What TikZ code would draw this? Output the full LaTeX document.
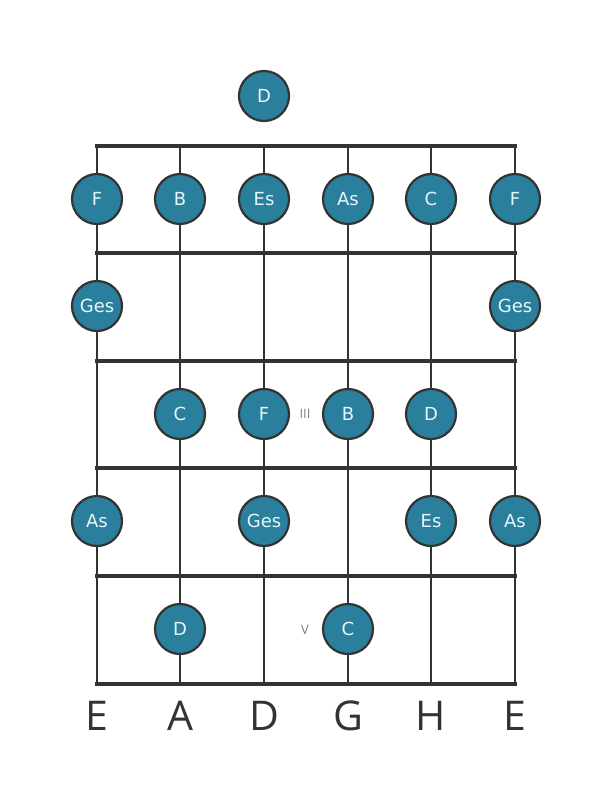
\documentclass[tikz,border=0pt]{standalone}
\usepackage{fontspec}
\setmainfont{Open Sans}
\newfontfamily\notefont{DejaVu Sans}
\begin{document}
\begin{tikzpicture}[x=1pt,y=-1pt,
  note/.style={circle,draw=black!80,line width=2.2pt,fill=notecol,minimum size=50pt,inner sep=0pt,text=notetext,font=\notefont\fontsize{18}{18}\selectfont},
  fret/.style={line width=4.5pt,draw=black!80},
  string/.style={line width=2.8pt,draw=black!80},
  marker/.style={text=black!50,font=\fontsize{13}{13}\selectfont},
  tuning/.style={text=black!80,font=\fontsize{41}{41}\selectfont}]
\definecolor{notecol}{HTML}{2A7F9C}
\definecolor{notetext}{HTML}{E6F6FA}
\useasboundingbox (0,0) rectangle (611,801);
% strings
\foreach \x in {97,180,264,348,431,515}{
  \coordinate (st\x) at (\x,146);
  \coordinate (sb\x) at (\x,684);
  \draw[string] (st\x) -- (sb\x);
}
% frets
\foreach \y in {146,253,361,468,576,684}{
  \coordinate (fl\y) at (95,\y);
  \coordinate (fr\y) at (517,\y);
  \draw[fret] (fl\y) -- (fr\y);
}
% open
\node[note] (o) at (264,96) {D};
% fret 1
\node[note] (a1) at (97,199) {F};
\node[note] (a2) at (180,199) {B};
\node[note] (a3) at (264,199) {Es};
\node[note] (a4) at (348,199) {As};
\node[note] (a5) at (431,199) {C};
\node[note] (a6) at (515,199) {F};
% fret 2
\node[note] (b1) at (97,306) {Ges};
\node[note] (b6) at (515,306) {Ges};
% fret 3
\node[note] (c2) at (180,414) {C};
\node[note] (c3) at (264,414) {F};
\node[note] (c4) at (348,414) {B};
\node[note] (c5) at (431,414) {D};
\node[marker] (m3) at (305,414) {III};
% fret 4
\node[note] (d1) at (97,521) {As};
\node[note] (d3) at (264,521) {Ges};
\node[note] (d5) at (431,521) {Es};
\node[note] (d6) at (515,521) {As};
% fret 5
\node[note] (e2) at (180,629) {D};
\node[note] (e4) at (348,629) {C};
\node[marker] (m5) at (305,630) {V};
% tuning
\foreach \x/\n in {97/E,180/A,264/D,348/G,431/H,515/E}{
  \node[tuning] (t\x) at (\x,716) {\n};
}
\end{tikzpicture}
\end{document}
